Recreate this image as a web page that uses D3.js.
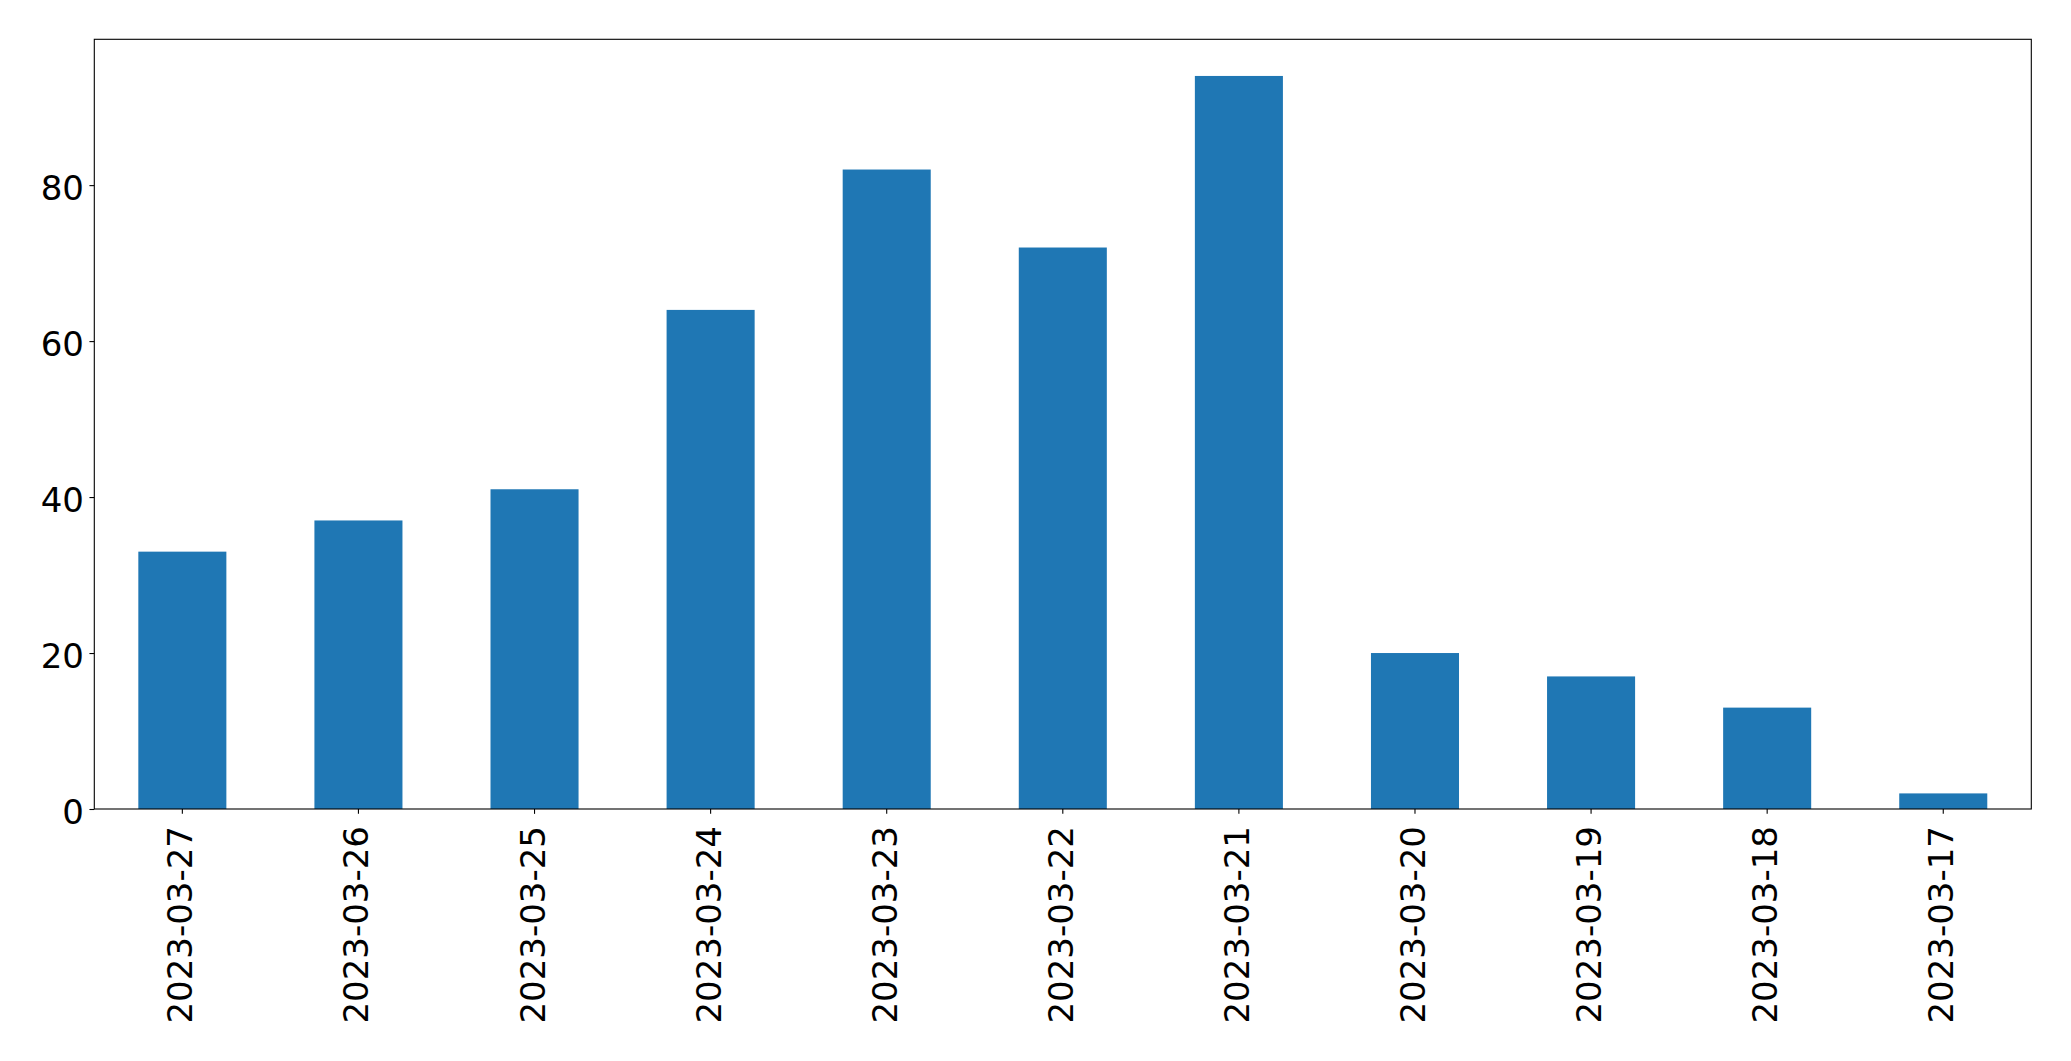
<!DOCTYPE html>
<html>
<head>
<meta charset="utf-8">
<script src="https://cdn.jsdelivr.net/npm/d3@7"></script>
<style>
html,body{margin:0;padding:0;background:#fff;}
svg{display:block;}
text{font-family:"DejaVu Sans",sans-serif;}
</style>
</head>
<body>
<script>
const categories = ["2023-03-27","2023-03-26","2023-03-25","2023-03-24","2023-03-23","2023-03-22","2023-03-21","2023-03-20","2023-03-19","2023-03-18","2023-03-17"];
const values = [33, 37, 41, 64, 82, 72, 94, 20, 17, 13, 2];
const yTicks = [0, 20, 40, 60, 80];

const W = 2071, H = 1061;
const mLeft = 94.3, mRight = 2031.3, mTop = 39.3, mBottom = 809;
const fontSize = 34;

const svg = d3.select("body").append("svg").attr("width", W).attr("height", H);

const x = d3.scaleBand().domain(categories).range([mLeft, mRight]).paddingInner(0.5).paddingOuter(0.25);
const y = d3.scaleLinear().domain([0, d3.max(values) * 1.05]).range([mBottom, mTop]);

svg.append("g").selectAll("rect").data(categories).join("rect")
  .attr("x", d => x(d))
  .attr("width", x.bandwidth())
  .attr("y", (d, i) => y(values[i]))
  .attr("height", (d, i) => y(0) - y(values[i]))
  .attr("fill", "#1f77b4");

// Y axis
const yAxis = d3.axisLeft(y).tickValues(yTicks).tickSize(4.86).tickPadding(4.86).tickFormat(d3.format("d"));
const gy = svg.append("g").attr("transform", `translate(${mLeft},0)`).call(yAxis);
gy.select(".domain").remove();
gy.selectAll(".tick line").attr("stroke", "#000").attr("stroke-width", 1.1);
gy.selectAll(".tick text")
  .attr("x", -10.3)
  .attr("dy", null)
  .attr("y", 14)
  .attr("fill", "#000")
  .style("font-size", fontSize + "px")
  .style("font-family", "'DejaVu Sans', sans-serif")
  .attr("text-anchor", "end");

// X axis
const xAxis = d3.axisBottom(x).tickSize(4.86).tickPadding(0);
const gx = svg.append("g").attr("transform", `translate(0,${mBottom})`).call(xAxis);
gx.select(".domain").remove();
gx.selectAll(".tick line").attr("stroke", "#000").attr("stroke-width", 1.1);
gx.selectAll(".tick text")
  .attr("y", null).attr("dy", null)
  .attr("fill", "#000")
  .style("font-size", fontSize + "px")
  .style("font-family", "'DejaVu Sans', sans-serif")
  .attr("text-anchor", "end")
  .attr("transform", "translate(10,17) rotate(-90)");

// Frame
svg.append("rect")
  .attr("x", mLeft).attr("y", mTop)
  .attr("width", mRight - mLeft).attr("height", mBottom - mTop)
  .attr("fill", "none").attr("stroke", "#000").attr("stroke-width", 1.1);
</script>
</body>
</html>
